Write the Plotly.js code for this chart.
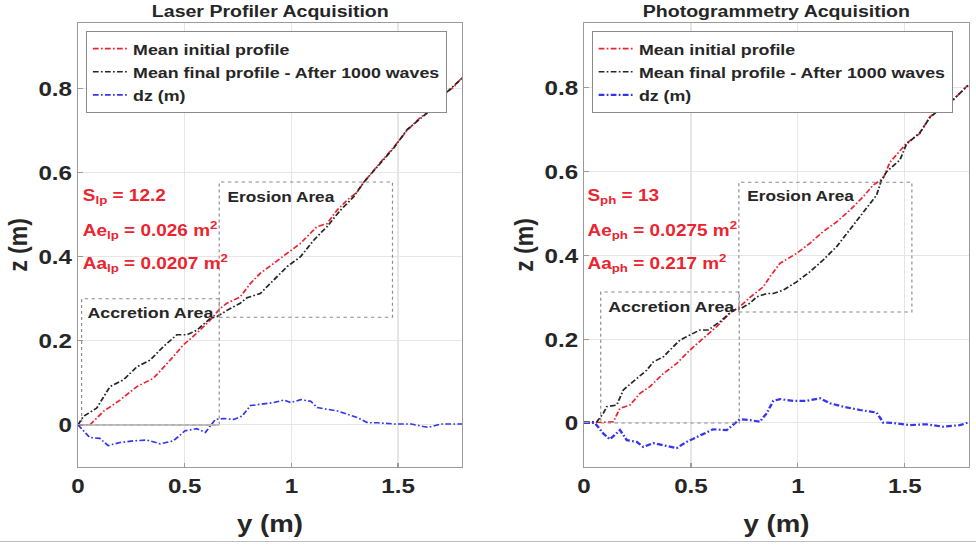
<!DOCTYPE html>
<html>
<head>
<meta charset="utf-8">
<script src="https://cdn.plot.ly/plotly-3.0.1.min.js"></script>
<style>
html,body{margin:0;padding:0;background:#fff;overflow:hidden;}
#chart{width:849px;height:547px;transform:scaleX(1.14959);transform-origin:0 0;}
</style>
</head>
<body>
<div id="chart"></div>
<script>
// ---- Laser profiler data ----
const lpInitX = [0, 0.056, 0.119, 0.197, 0.276, 0.354, 0.432, 0.494, 0.557, 0.62, 0.667, 0.698, 0.76, 0.808, 0.854, 0.917, 0.98, 1.042, 1.12, 1.167, 1.214, 1.261, 1.308, 1.34, 1.418, 1.48, 1.543, 1.606, 1.653, 1.70, 1.762, 1.80];
const lpInitZ = [0, 0, 0.032, 0.059, 0.091, 0.111, 0.154, 0.190, 0.218, 0.249, 0.277, 0.289, 0.304, 0.336, 0.360, 0.384, 0.407, 0.431, 0.471, 0.478, 0.51, 0.534, 0.553, 0.577, 0.624, 0.660, 0.700, 0.731, 0.747, 0.779, 0.803, 0.826];
const lpFinX = [0, 0.025, 0.088, 0.150, 0.213, 0.276, 0.338, 0.40, 0.463, 0.51, 0.557, 0.62, 0.651, 0.698, 0.76, 0.792, 0.854, 0.917, 0.98, 1.042, 1.105, 1.167, 1.23, 1.292, 1.34, 1.418, 1.48, 1.543, 1.606, 1.653, 1.70, 1.762, 1.80];
const lpFinZ = [0, 0.020, 0.040, 0.091, 0.107, 0.138, 0.154, 0.186, 0.214, 0.214, 0.225, 0.253, 0.257, 0.272, 0.289, 0.302, 0.312, 0.344, 0.376, 0.399, 0.439, 0.471, 0.510, 0.542, 0.577, 0.622, 0.658, 0.702, 0.729, 0.748, 0.777, 0.805, 0.824];
const lpDzX = [0, 0.055, 0.102, 0.141, 0.196, 0.259, 0.322, 0.385, 0.447, 0.502, 0.557, 0.597, 0.644, 0.683, 0.730, 0.769, 0.809, 0.871, 0.918, 0.966, 0.997, 1.044, 1.091, 1.122, 1.17, 1.217, 1.264, 1.311, 1.358, 1.405, 1.484, 1.562, 1.641, 1.70, 1.80];
const lpDzZ = [0, -0.030, -0.032, -0.049, -0.042, -0.038, -0.036, -0.045, -0.038, -0.014, -0.009, -0.018, 0.013, 0.015, 0.013, 0.021, 0.046, 0.051, 0.053, 0.059, 0.053, 0.060, 0.056, 0.041, 0.037, 0.033, 0.025, 0.017, 0.005, 0.005, 0.002, 0.002, -0.006, 0.002, 0.002];

// ---- Photogrammetry data ----
const phInitX = [0, 0.012, 0.137, 0.168, 0.215, 0.262, 0.308, 0.371, 0.433, 0.495, 0.557, 0.62, 0.682, 0.729, 0.776, 0.838, 0.869, 0.916, 0.994, 1.056, 1.118, 1.181, 1.243, 1.305, 1.352, 1.399, 1.43, 1.508, 1.57, 1.617, 1.68, 1.726, 1.796];
const phInitZ = [0.002, 0, 0.003, 0.035, 0.043, 0.071, 0.087, 0.118, 0.142, 0.174, 0.202, 0.230, 0.262, 0.278, 0.300, 0.325, 0.349, 0.381, 0.405, 0.429, 0.457, 0.480, 0.508, 0.540, 0.568, 0.584, 0.622, 0.668, 0.691, 0.731, 0.755, 0.771, 0.807];
const phFinX = [0, 0.06, 0.09, 0.106, 0.153, 0.184, 0.23, 0.293, 0.324, 0.371, 0.417, 0.449, 0.495, 0.542, 0.581, 0.636, 0.698, 0.729, 0.776, 0.807, 0.854, 0.885, 0.931, 0.994, 1.056, 1.118, 1.181, 1.243, 1.29, 1.336, 1.368, 1.391, 1.415, 1.477, 1.508, 1.57, 1.617, 1.68, 1.726, 1.796];
const phFinZ = [0.002, 0.003, 0.023, 0.039, 0.043, 0.079, 0.099, 0.126, 0.146, 0.158, 0.182, 0.198, 0.210, 0.222, 0.222, 0.242, 0.270, 0.272, 0.286, 0.301, 0.309, 0.309, 0.317, 0.337, 0.361, 0.389, 0.421, 0.461, 0.492, 0.524, 0.544, 0.580, 0.600, 0.628, 0.666, 0.693, 0.729, 0.757, 0.772, 0.806];
const phDzX = [0, 0.051, 0.09, 0.121, 0.168, 0.2, 0.246, 0.277, 0.324, 0.371, 0.433, 0.48, 0.542, 0.604, 0.667, 0.729, 0.776, 0.822, 0.854, 0.885, 0.916, 0.978, 1.041, 1.103, 1.15, 1.212, 1.29, 1.368, 1.399, 1.445, 1.523, 1.601, 1.679, 1.757, 1.796];
const phDzZ = [0, 0, -0.025, -0.039, -0.017, -0.041, -0.045, -0.057, -0.048, -0.053, -0.060, -0.045, -0.029, -0.015, -0.017, 0.009, 0.007, 0.003, 0.023, 0.053, 0.057, 0.053, 0.053, 0.059, 0.047, 0.039, 0.031, 0.025, 0.001, 0, -0.005, -0.003, -0.009, -0.005, 0.001];

// ---- Labels ----
const seriesNames = ['Mean initial profile', 'Mean final profile - After 1000 waves', 'dz (m)'];
const panelTitles = ['Laser Profiler Acquisition', 'Photogrammetry Acquisition'];
const lpStats = ['S<sub>lp</sub> = 12.2', 'Ae<sub>lp</sub> = 0.026 m<sup>2</sup>', 'Aa<sub>lp</sub> = 0.0207 m<sup>2</sup>'];
const phStats = ['S<sub>ph</sub> = 13', 'Ae<sub>ph</sub> = 0.0275 m<sup>2</sup>', 'Aa<sub>ph</sub> = 0.217 m<sup>2</sup>'];
const xTicks = [0, 0.5, 1, 1.5];
const xTickText = ['0', '0.5', '1', '1.5'];
const yTicks = [0, 0.2, 0.4, 0.6, 0.8];
const yTickText = ['0', '0.2', '0.4', '0.6', '0.8'];
// area boxes [x0, x1, z0, z1]
const lpErosionBox = [0.662, 1.474, 0.256, 0.577];
const lpAccretionBox = [0.017, 0.662, 0, 0.300];
const phErosionBox = [0.724, 1.533, 0.265, 0.575];
const phAccretionBox = [0.078, 0.726, 0, 0.313];

const RED = '#ec2430', BLACK = '#262626', BLUE = '#3535f0';
const FONT = 'Liberation Sans, Arial, sans-serif';

function tr(x, y, name, color, xa, ya, leg, w) {
  return {x: x, y: y, name: '<b>' + name + '</b>', type: 'scatter', mode: 'lines',
    line: {color: color, width: w || 1.6, dash: '5px,2px,1.5px,2px'},
    xaxis: xa, yaxis: ya, legend: leg};
}
const data = [
  tr(lpInitX, lpInitZ, seriesNames[0], RED, 'x', 'y', 'legend'),
  tr(lpFinX, lpFinZ, seriesNames[1], BLACK, 'x', 'y', 'legend'),
  tr(lpDzX, lpDzZ, seriesNames[2], BLUE, 'x', 'y', 'legend'),
  tr(phInitX, phInitZ, seriesNames[0], RED, 'x2', 'y2', 'legend2'),
  tr(phFinX, phFinZ, seriesNames[1], BLACK, 'x2', 'y2', 'legend2'),
  tr(phDzX, phDzZ, seriesNames[2], BLUE, 'x2', 'y2', 'legend2', 2.2)
];

function bold(arr) { return arr.map(t => '<b>' + t + '</b>'); }
function xax(dom, anchor) {
  return {domain: dom, range: [0, 1.8], anchor: anchor, tickmode: 'array', tickvals: xTicks, ticktext: bold(xTickText),
    showgrid: true, gridcolor: '#e6e6e6', zeroline: false, showline: true, linecolor: '#9a9a9a', mirror: true,
    ticks: 'inside', ticklen: 4, tickcolor: '#9a9a9a',
    tickfont: {family: FONT, size: 21, color: BLACK},
    title: {text: '<b>y (m)</b>', font: {family: FONT, size: 24, color: BLACK}, standoff: 19}};
}
function yax(dom, anchor, rng) {
  return {domain: dom, range: rng, anchor: anchor, tickmode: 'array', tickvals: yTicks, ticktext: bold(yTickText),
    showgrid: true, gridcolor: '#e6e6e6', zeroline: false, showline: true, linecolor: '#9a9a9a', mirror: true,
    ticks: 'inside', ticklen: 4, tickcolor: '#9a9a9a',
    tickfont: {family: FONT, size: 21, color: BLACK},
    title: {text: '<b>z (m)</b>', font: {family: FONT, size: 23, color: BLACK}, standoff: 2}};
}

const yDom = [0.1463, 0.958];
function boxShapes(b, xr, yr) {
  return [{type: 'rect', xref: xr, yref: yr, x0: b[0], x1: b[1], y0: b[2], y1: b[3],
    line: {color: '#8a8a8a', width: 1, dash: 'dot'}, fillcolor: 'rgba(0,0,0,0)'}];
}
const shapes = [].concat(
  boxShapes(lpErosionBox, 'x', 'y'), boxShapes(lpAccretionBox, 'x', 'y'),
  boxShapes(phErosionBox, 'x2', 'y2'), boxShapes(phAccretionBox, 'x2', 'y2'),
  [{type: 'line', xref: 'x', yref: 'y', x0: lpAccretionBox[0], x1: lpAccretionBox[1], y0: 0, y1: 0, line: {color: '#b0b0b0', width: 1.5}},
   {type: 'line', xref: 'paper', yref: 'paper', x0: 0, x1: 1, y0: 0.01, y1: 0.01, line: {color: '#bdbdbd', width: 1}}]
);

function statAnn(texts, xr, yr, xs, ys) {
  return texts.map((t, i) => ({text: '<b>' + t + '</b>', xref: xr, yref: yr, x: xs, y: ys[i],
    xanchor: 'left', yanchor: 'middle', showarrow: false, font: {family: FONT, size: 16.5, color: RED}}));
}
const annotations = [].concat(
  [{text: '<b>' + panelTitles[0] + '</b>', xref: 'x domain', yref: 'paper', x: 0.5, y: 1.0, yanchor: 'top', xanchor: 'center', yshift: 0, showarrow: false, font: {family: FONT, size: 17, color: BLACK}},
   {text: '<b>' + panelTitles[1] + '</b>', xref: 'x2 domain', yref: 'paper', x: 0.5, y: 1.0, yanchor: 'top', xanchor: 'center', yshift: 0, showarrow: false, font: {family: FONT, size: 17, color: BLACK}},
   {text: '<b>Erosion Area</b>', xref: 'x', yref: 'y', x: 0.69, y: 0.543, xanchor: 'left', yanchor: 'middle', showarrow: false, font: {family: FONT, size: 15, color: BLACK}},
   {text: '<b>Accretion Area</b>', xref: 'x', yref: 'y', x: 0.035, y: 0.266, xanchor: 'left', yanchor: 'middle', showarrow: false, font: {family: FONT, size: 15.5, color: BLACK}},
   {text: '<b>Erosion Area</b>', xref: 'x2', yref: 'y2', x: 0.752, y: 0.542, xanchor: 'left', yanchor: 'middle', showarrow: false, font: {family: FONT, size: 15, color: BLACK}},
   {text: '<b>Accretion Area</b>', xref: 'x2', yref: 'y2', x: 0.1, y: 0.277, xanchor: 'left', yanchor: 'middle', showarrow: false, font: {family: FONT, size: 15.5, color: BLACK}}],
  statAnn(lpStats, 'x', 'y', 0.01, [0.545, 0.462, 0.384]),
  statAnn(phStats, 'x2', 'y2', 0.005, [0.543, 0.46, 0.381])
);

const legendBase = {yanchor: 'top', xanchor: 'left', bgcolor: '#ffffff', bordercolor: '#8a8a8a', borderwidth: 1,
  font: {family: FONT, size: 15.5, color: BLACK}, tracegroupgap: 0, itemwidth: 30};
const layout = {
  width: 849, height: 547, margin: {l: 0, r: 0, t: 0, b: 0},
  paper_bgcolor: '#ffffff', plot_bgcolor: '#ffffff', showlegend: true,
  xaxis: xax([0.0799, 0.4734], 'y'),
  yaxis: yax(yDom, 'x', [-0.1, 0.955]),
  xaxis2: xax([0.5984, 0.9928], 'y2'),
  yaxis2: yax(yDom, 'x2', [-0.105, 0.955]),
  legend: Object.assign({x: 0.0881, y: 0.9433}, legendBase),
  legend2: Object.assign({x: 0.6063, y: 0.9433}, legendBase),
  shapes: shapes, annotations: annotations
};
Plotly.newPlot('chart', data, layout, {displayModeBar: false, staticPlot: true});
</script>
</body>
</html>
